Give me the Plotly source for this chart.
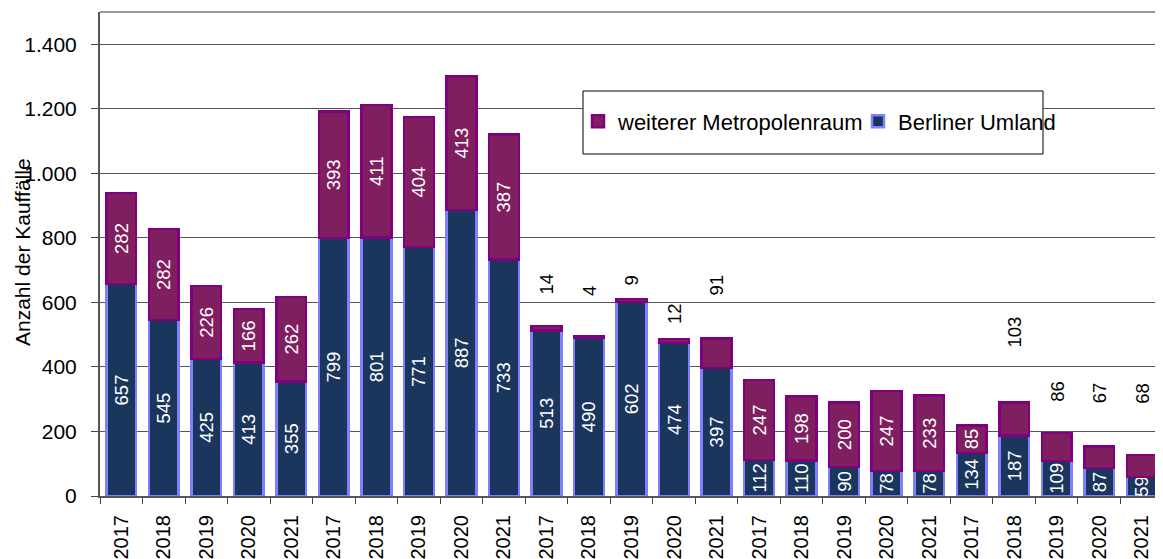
import plotly.graph_objects as go

# ---- data ----
years = ["2017", "2018", "2019", "2020", "2021"]
n_groups = 5
tick_labels = years * n_groups

berliner_umland = [657, 545, 425, 413, 355,
                   799, 801, 771, 887, 733,
                   513, 490, 602, 474, 397,
                   112, 110, 90, 78, 78,
                   134, 187, 109, 87, 59]
weiterer_metropolenraum = [282, 282, 226, 166, 262,
                           393, 411, 404, 413, 387,
                           14, 4, 9, 12, 91,
                           247, 198, 200, 247, 233,
                           85, 103, 86, 67, 68]

# label placement (style): index -> y position of labels drawn above the bars
outside_label_y = {10: 657, 11: 635, 12: 666, 13: 564, 14: 654,
                   21: 507, 22: 325, 23: 319, 24: 319}

x = list(range(len(tick_labels)))

# the page body adds an 8px offset; size the figure to compensate
OFF = 8
W, H = 1163 - OFF, 559 - OFF
ml, mr, mt, mb = 100 - OFF, 0, 12 - OFF, 63
pw = W - ml - mr
ph = H - mt - mb


def px_x(sx):
    """screen x -> paper fraction"""
    return (sx - OFF - ml) / pw


def px_y(sy):
    """screen y -> paper fraction"""
    return (H - mb - (sy - OFF)) / ph


navy = "#1B365D"
navy_line = "#8080FF"
purple = "#7F1F5F"
purple_line = "#800080"
font_family = "Liberation Sans, Arial, sans-serif"

umland_text = [str(v) for v in berliner_umland]
weiterer_text = ["" if i in outside_label_y else str(v)
                 for i, v in enumerate(weiterer_metropolenraum)]

label_size = 18.5

fig = go.Figure()
fig.add_trace(go.Bar(
    x=x, y=berliner_umland, name="Berliner Umland",
    marker=dict(color=navy, line=dict(color=navy_line, width=2.5)),
    width=0.7, text=umland_text, textposition="inside",
    insidetextanchor="middle", textangle=-90, constraintext="none",
    textfont=dict(color="white", size=label_size, family=font_family),
    hoverinfo="skip",
))
fig.add_trace(go.Bar(
    x=x, y=weiterer_metropolenraum, name="weiterer Metropolenraum",
    marker=dict(color=purple, line=dict(color=purple_line, width=2.5)),
    width=0.7, text=weiterer_text, textposition="inside",
    insidetextanchor="middle", textangle=-90, constraintext="none",
    textfont=dict(color="white", size=label_size, family=font_family),
    hoverinfo="skip",
))

annotations = []
for i, yy in outside_label_y.items():
    annotations.append(dict(
        x=i, y=yy, xref="x", yref="y", text=str(weiterer_metropolenraum[i]),
        showarrow=False, textangle=-90, xanchor="center", yanchor="middle",
        font=dict(color="black", size=label_size, family=font_family)))

# y-axis title
annotations.append(dict(
    x=px_x(22), y=px_y(252), xref="paper", yref="paper",
    text="Anzahl der Kauffälle", showarrow=False, textangle=-90,
    xanchor="center", yanchor="middle",
    font=dict(color="black", size=21, family=font_family)))

# legend frame
shapes = [dict(
    type="rect", xref="paper", yref="paper", layer="above",
    x0=px_x(583), x1=px_x(1043), y0=px_y(154), y1=px_y(91),
    line=dict(color="black", width=1), fillcolor="white")]
# top frame line of plot area
shapes.append(dict(type="line", xref="paper", yref="paper", x0=0, x1=1,
                   y0=1, y1=1, line=dict(color="#999999", width=2),
                   layer="above"))

fig.update_layout(
    width=W, height=H,
    margin=dict(l=ml, r=mr, t=mt, b=mb, pad=0, autoexpand=False),
    barmode="stack",
    plot_bgcolor="white", paper_bgcolor="white",
    separators=",.",
    font=dict(family=font_family, size=21, color="black"),
    showlegend=True,
    legend=dict(orientation="h", traceorder="reversed",
                x=px_x(578), xanchor="left",
                y=px_y(121.5), yanchor="middle",
                bgcolor="rgba(0,0,0,0)", borderwidth=0,
                font=dict(size=22, family=font_family, color="black"),
                entrywidth=235, entrywidthmode="pixels",
                itemwidth=30),
    annotations=annotations,
    shapes=shapes,
)
fig.update_xaxes(
    automargin=False,
    range=[-0.5, len(x) - 0.5],
    tickmode="array", tickvals=x, ticktext=tick_labels,
    tickangle=-90, ticks="outside", ticklen=9, tickcolor="rgba(0,0,0,0)",
    tickfont=dict(size=20, family=font_family, color="black"),
    showline=True, linecolor="#555555", linewidth=2, mirror=False,
    showgrid=False, zeroline=False,
    minor=dict(tickmode="linear", tick0=-0.5, dtick=1, ticks="outside",
               ticklen=6, tickcolor="#444444", tickwidth=1, showgrid=False),
)
fig.update_yaxes(
    automargin=False,
    range=[0, 1500], tickmode="linear", tick0=0, dtick=200,
    tickformat=",d",
    ticks="outside", ticklen=7, tickcolor="#444444",
    ticklabelstandoff=10,
    tickfont=dict(size=21, family=font_family, color="black"),
    showline=True, linecolor="#555555", linewidth=2,
    showgrid=True, gridcolor="#555555", gridwidth=1,
    zeroline=False,
)

fig.write_html("out.html")
